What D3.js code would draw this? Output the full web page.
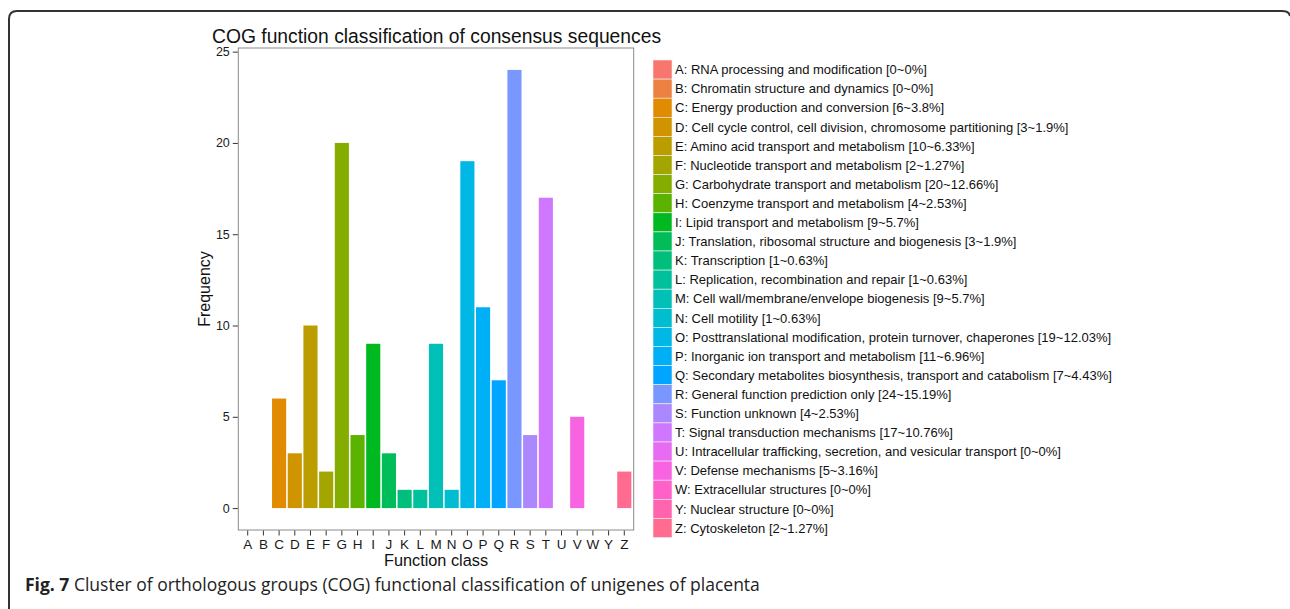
<!DOCTYPE html>
<html>
<head>
<meta charset="utf-8">
<script src="https://cdn.jsdelivr.net/npm/d3@7"></script>
<style>
  body { margin: 0; background: #fff; }
  svg { display: block; }
</style>
</head>
<body>
<div id="chart"></div>
<script>
// COG classes, counts and legend descriptions
let classes = ["A","B","C","D","E","F","G","H","I","J","K","L","M","N","O","P","Q","R","S","T","U","V","W","Y","Z"];
let counts = [0,0,6,3,10,2,20,4,9,3,1,1,9,1,19,11,7,24,4,17,0,5,0,0,2];
let descriptions = [
  "RNA processing and modification [0~0%]",
  "Chromatin structure and dynamics [0~0%]",
  "Energy production and conversion [6~3.8%]",
  "Cell cycle control, cell division, chromosome partitioning [3~1.9%]",
  "Amino acid transport and metabolism [10~6.33%]",
  "Nucleotide transport and metabolism [2~1.27%]",
  "Carbohydrate transport and metabolism [20~12.66%]",
  "Coenzyme transport and metabolism [4~2.53%]",
  "Lipid transport and metabolism [9~5.7%]",
  "Translation, ribosomal structure and biogenesis [3~1.9%]",
  "Transcription [1~0.63%]",
  "Replication, recombination and repair [1~0.63%]",
  "Cell wall/membrane/envelope biogenesis [9~5.7%]",
  "Cell motility [1~0.63%]",
  "Posttranslational modification, protein turnover, chaperones [19~12.03%]",
  "Inorganic ion transport and metabolism [11~6.96%]",
  "Secondary metabolites biosynthesis, transport and catabolism [7~4.43%]",
  "General function prediction only [24~15.19%]",
  "Function unknown [4~2.53%]",
  "Signal transduction mechanisms [17~10.76%]",
  "Intracellular trafficking, secretion, and vesicular transport [0~0%]",
  "Defense mechanisms [5~3.16%]",
  "Extracellular structures [0~0%]",
  "Nuclear structure [0~0%]",
  "Cytoskeleton [2~1.27%]"
];
let yTicks = [0, 5, 10, 15, 20, 25];

let width = 1290;
let height = 609;
let sans = "'Liberation Sans', Arial, sans-serif";

// ggplot-style hue palette (polar LUV, l=65, c=100)
function hclLuv(h, c, l) {
  let Xn = 95.047, Yn = 100, Zn = 108.883;
  let den = Xn + 15 * Yn + 3 * Zn;
  let un = 4 * Xn / den, vn = 9 * Yn / den;
  let hr = h * Math.PI / 180;
  let U = c * Math.cos(hr), V = c * Math.sin(hr);
  let Y = l > 8 ? Yn * Math.pow((l + 16) / 116, 3) : Yn * l / 903.3;
  let up = U / (13 * l) + un, vp = V / (13 * l) + vn;
  let X = 9 * Y * up / (4 * vp);
  let Z = -X / 3 - 5 * Y + 3 * Y / vp;
  X /= 100; Y /= 100; Z /= 100;
  let r = 3.240479 * X - 1.53715 * Y - 0.498535 * Z;
  let g = -0.969256 * X + 1.875992 * Y + 0.041556 * Z;
  let b = 0.055648 * X - 0.204043 * Y + 1.057311 * Z;
  let gam = v => {
    v = v <= 0.0031308 ? 12.92 * v : 1.055 * Math.pow(v, 1 / 2.4) - 0.055;
    return Math.round(Math.max(0, Math.min(1, v)) * 255);
  };
  return d3.rgb(gam(r), gam(g), gam(b)).formatHex();
}
let n = classes.length;
let palette = classes.map((c, i) => hclLuv(15 + i * (360 / n), 100, 65));
let color = d3.scaleOrdinal().domain(classes).range(palette);

let svg = d3.select("#chart").append("svg")
  .attr("width", width)
  .attr("height", height);

// outer figure frame (rounded, clipped at right and bottom)
svg.append("path")
  .attr("d", "M9,612 V19 Q9,11 17,11 H1282 Q1289,11 1290,16")
  .attr("fill", "none")
  .attr("stroke", "#333")
  .attr("stroke-width", 2);

let panel = { left: 238.3, right: 633.7, top: 48, bottom: 530 };

let x = d3.scaleBand()
  .domain(classes)
  .range([panel.left, panel.right])
  .paddingInner(0.1)
  .paddingOuter(0.15);

let y = d3.scaleLinear()
  .domain([-1.2, 25.2])
  .range([panel.bottom, panel.top]);

// bars
svg.append("g")
  .selectAll("rect")
  .data(classes.map((c, i) => ({ c: c, v: counts[i] })))
  .enter()
  .append("rect")
  .attr("x", d => x(d.c))
  .attr("width", x.bandwidth())
  .attr("y", d => y(d.v))
  .attr("height", d => y(0) - y(d.v))
  .attr("fill", d => color(d.c));

// panel border
svg.append("rect")
  .attr("x", panel.left)
  .attr("y", panel.top)
  .attr("width", panel.right - panel.left)
  .attr("height", panel.bottom - panel.top)
  .attr("fill", "none")
  .attr("stroke", "#8a8a8a")
  .attr("stroke-width", 1);

// y axis
let yAxis = svg.append("g")
  .attr("transform", "translate(" + (panel.left - 0.5) + ",0)")
  .call(d3.axisLeft(y).tickValues(yTicks).tickSize(5).tickPadding(3).tickFormat(d3.format("d")));
yAxis.select(".domain").remove();
yAxis.selectAll("line").attr("stroke", "#333");
yAxis.selectAll("text")
  .attr("font-family", sans)
  .attr("font-size", 12.5)
  .attr("fill", "#1a1a1a");

// x axis
let xAxis = svg.append("g")
  .attr("transform", "translate(0," + (panel.bottom + 0.5) + ")")
  .call(d3.axisBottom(x).tickSize(5).tickPadding(4));
xAxis.select(".domain").remove();
xAxis.selectAll("line").attr("stroke", "#333");
xAxis.selectAll("text")
  .attr("font-family", sans)
  .attr("font-size", 13.5)
  .attr("fill", "#1a1a1a");

// title and axis titles
svg.append("text")
  .attr("x", 212)
  .attr("y", 42.5)
  .attr("font-family", sans)
  .attr("font-size", 19.3)
  .attr("fill", "#111")
  .text("COG function classification of consensus sequences");

svg.append("text")
  .attr("x", (panel.left + panel.right) / 2)
  .attr("y", 566)
  .attr("text-anchor", "middle")
  .attr("font-family", sans)
  .attr("font-size", 16.3)
  .attr("fill", "#111")
  .text("Function class");

svg.append("text")
  .attr("transform", "translate(210," + ((panel.top + panel.bottom) / 2) + ") rotate(-90)")
  .attr("text-anchor", "middle")
  .attr("font-family", sans)
  .attr("font-size", 16)
  .attr("fill", "#111")
  .text("Frequency");

// legend
let keyH = 19.1;
let legend = svg.append("g")
  .attr("transform", "translate(653,60)");

let rows = legend.selectAll("g")
  .data(classes)
  .enter()
  .append("g")
  .attr("transform", (d, i) => "translate(0," + (i * keyH) + ")");

rows.append("rect")
  .attr("width", 19)
  .attr("height", keyH)
  .attr("fill", d => color(d))
  .attr("stroke", "#f0f0f0")
  .attr("stroke-width", 0.6);

rows.append("text")
  .attr("x", 22)
  .attr("y", keyH / 2)
  .attr("dy", "0.36em")
  .attr("font-family", sans)
  .attr("font-size", 13)
  .attr("fill", "#111")
  .text((d, i) => d + ": " + descriptions[i]);

// caption
let cap = svg.append("text")
  .attr("x", 25)
  .attr("y", 591)
  .attr("font-family", "'Open Sans', sans-serif")
  .attr("font-size", 17.5)
  .attr("fill", "#222");
cap.append("tspan").attr("font-weight", "bold").text("Fig. 7");
cap.append("tspan").text(" Cluster of orthologous groups (COG) functional classification of unigenes of placenta");
</script>
</body>
</html>
